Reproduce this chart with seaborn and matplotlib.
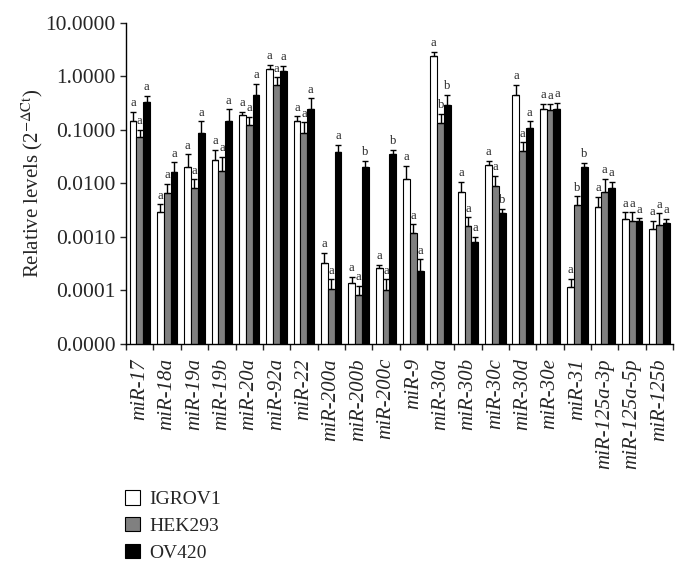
import pandas as pd
import numpy as np
import matplotlib
matplotlib.use('Agg')
import matplotlib.pyplot as plt
import seaborn as sns
from matplotlib.patches import Patch
from matplotlib.ticker import FixedLocator, FormatStrFormatter

mirnas = ['miR-17', 'miR-18a', 'miR-19a', 'miR-19b', 'miR-20a', 'miR-92a', 'miR-22',
          'miR-200a', 'miR-200b', 'miR-200c', 'miR-9', 'miR-30a', 'miR-30b', 'miR-30c',
          'miR-30d', 'miR-30e', 'miR-31', 'miR-125a-3p', 'miR-125a-5p', 'miR-125b']
cells = ['IGROV1', 'HEK293', 'OV420']

igrov1 = [0.15, 0.0029, 0.0206, 0.028, 0.187, 1.39, 0.15, 0.00033, 0.000137, 0.000262,
          0.012, 2.39, 0.0070, 0.0221, 0.46, 0.245, 0.000116, 0.00364, 0.00215, 0.00144]
igrov1_hi = [0.22, 0.0041, 0.035, 0.043, 0.22, 1.64, 0.18, 0.0005, 0.000182, 0.0003,
             0.0215, 2.88, 0.0107, 0.0263, 0.69, 0.31, 0.000165, 0.0057, 0.0029, 0.002]
hek293 = [0.075, 0.0066, 0.0081, 0.0173, 0.122, 0.68, 0.089, 0.000107, 0.000083, 0.000103,
          0.00118, 0.136, 0.00163, 0.009, 0.0404, 0.235, 0.004, 0.0069, 0.00197, 0.00168]
hek293_hi = [0.1, 0.0098, 0.012, 0.0317, 0.176, 0.97, 0.14, 0.000163, 0.000122, 0.000163,
             0.00173, 0.2, 0.00234, 0.014, 0.0587, 0.3, 0.0058, 0.0123, 0.0029, 0.00278]
ov420 = [0.34, 0.0166, 0.089, 0.147, 0.46, 1.29, 0.245, 0.0382, 0.0206, 0.0355,
         0.000233, 0.295, 0.0008, 0.00278, 0.107, 0.249, 0.02, 0.0084, 0.002, 0.00181]
ov420_hi = [0.43, 0.0249, 0.145, 0.242, 0.72, 1.58, 0.39, 0.053, 0.0263, 0.042,
            0.000385, 0.448, 0.001, 0.00334, 0.145, 0.32, 0.0244, 0.0108, 0.00224, 0.00218]

igrov1_let = ['a'] * 20
hek293_let = ['a'] * 11 + ['b'] + ['a'] * 4 + ['b'] + ['a'] * 3
ov420_let = ['a'] * 8 + ['b', 'b', 'a', 'b', 'a', 'b', 'a', 'a', 'b', 'a', 'a', 'a']

yticks = [1e-5, 1e-4, 1e-3, 1e-2, 1e-1, 1, 10]

sns.set_style('white')
plt.rcParams['font.family'] = ['Liberation Serif', 'DejaVu Serif']
plt.rcParams['mathtext.fontset'] = 'stix'

df = pd.DataFrame({
    'mirna': mirnas * 3,
    'cell': np.repeat(cells, len(mirnas)),
    'level': igrov1 + hek293 + ov420,
})

fig = plt.figure(figsize=(6.89, 5.74), dpi=100)
ax = fig.add_axes([0.183, 0.4007, 0.794, 0.5593])
ax.set_yscale('log')
sns.barplot(data=df, x='mirna', y='level', hue='cell', order=mirnas, hue_order=cells,
            palette=['white', '#808080', 'black'], edgecolor='black', linewidth=0.8,
            width=0.75, errorbar=None, legend=False, ax=ax)

for cont, vals, his, lets in zip(ax.containers, [igrov1, hek293, ov420],
                                 [igrov1_hi, hek293_hi, ov420_hi],
                                 [igrov1_let, hek293_let, ov420_let]):
    xs = [p.get_x() + p.get_width() / 2 for p in cont.patches]
    v = np.array(vals)
    h = np.array(his)
    ax.errorbar(xs, v, yerr=[np.zeros_like(v), h - v], fmt='none', ecolor='black',
                elinewidth=1.0, capsize=2.2, capthick=1.0)
    for x, top, l in zip(xs, h, lets):
        ax.text(x, top * 1.12, l, ha='center', va='bottom', fontsize=9)

ax.set_ylim(1e-5, 10)
ax.set_xlim(-0.5, len(mirnas) - 0.5)
ax.yaxis.set_major_locator(FixedLocator(yticks))
ax.yaxis.set_minor_locator(FixedLocator([]))
ax.yaxis.set_major_formatter(FormatStrFormatter('%.4f'))
ax.tick_params(axis='y', labelsize=15.5, length=4, width=1, direction='out', left=True)
ax.set_xticks(range(len(mirnas)))
ax.set_xticklabels(mirnas, rotation=90, fontsize=15, style='italic', va='top')
ax.set_xticks(np.arange(-0.5, len(mirnas)), minor=True)
ax.tick_params(axis='x', which='major', length=0, pad=10)
ax.tick_params(axis='x', which='minor', length=4, width=1, direction='out', bottom=True)
ax.set_xlabel('')
ax.set_ylabel(r'Relative levels (2$^{-\Delta\mathrm{Ct}}$)', fontsize=15, labelpad=0)
sns.despine(ax=ax)
for s in ['left', 'bottom']:
    ax.spines[s].set_color('black')
    ax.spines[s].set_linewidth(1)

handles = [Patch(facecolor=c, edgecolor='black', linewidth=0.8)
           for c in ['white', '#808080', 'black']]
fig.legend(handles, cells, loc='upper left', bbox_to_anchor=(0.156, 0.176),
           frameon=False, fontsize=14, handlelength=0.75, handleheight=0.75,
           handletextpad=0.5, labelspacing=0.45)

fig.savefig('out.png', dpi=100)
